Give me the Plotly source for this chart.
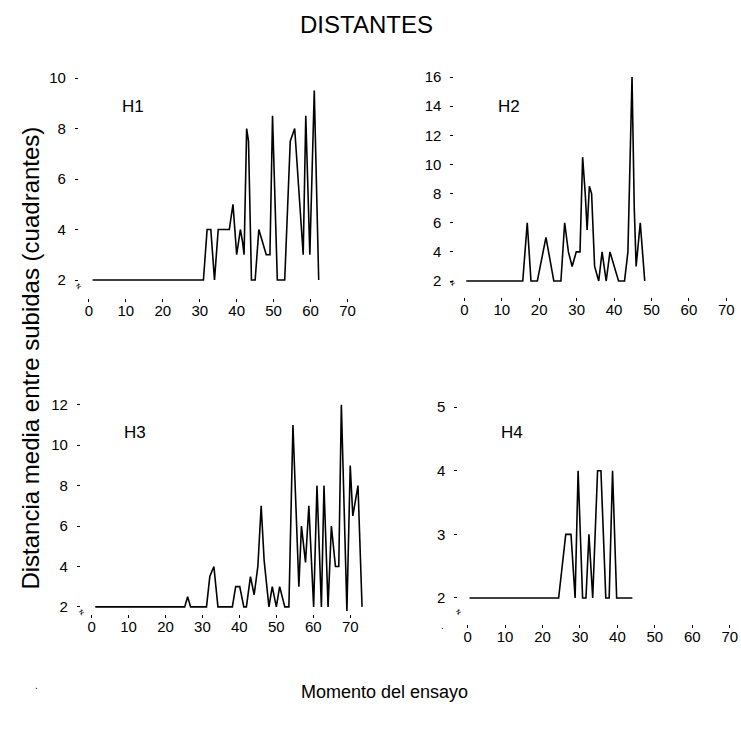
import plotly.graph_objects as go

W, H = 741, 734

# ---- data ----
h1_x = [1, 31, 32, 33, 34, 35, 38, 39, 40, 41, 41.6, 42, 42.7, 43.2, 44, 45, 46, 48, 49, 49.7, 51, 53, 54.5, 55.7, 58, 58.7, 59.8, 61, 62.2]
h1_y = [2, 2, 4, 4, 2, 4, 4, 5, 3, 4, 3.5, 3, 8, 7.5, 2, 2, 4, 3, 3, 8.5, 2, 2, 7.5, 8, 3, 8.5, 3, 9.5, 2]

h2_x = [0.5, 15.6, 16.8, 17.8, 19.5, 21.8, 23.9, 25.8, 26.8, 27.8, 28.8, 29.9, 30.9, 31.6, 32.3, 32.8, 33.4, 34, 34.8, 35.9, 36.8, 37.9, 38.9, 41.2, 42.8, 43.7, 44.8, 45.4, 45.9, 46.4, 47, 48.2]
h2_y = [2, 2, 6, 2, 2, 5, 2, 2, 6, 4, 3, 4, 4, 10.5, 8, 5.5, 8.5, 8, 3, 2, 4, 2, 4, 2, 2, 4, 16, 7, 3, 4.5, 6, 2]

h3_x = [1, 25.2, 26, 26.8, 31.1, 32, 33.1, 34.2, 38.1, 39, 40.1, 41.2, 41.9, 43, 44, 45, 45.9, 46.7, 48, 48.9, 50, 50.9, 52.3, 53.4, 54.5, 56.1, 56.8, 57.9, 58.8, 60.1, 61, 62.2, 62.9, 64, 64.9, 66, 66.9, 67.6, 69.1, 70, 70.7, 72.1, 73.2]
h3_y = [2, 2, 2.5, 2, 2, 3.5, 4, 2, 2, 3, 3, 2, 2, 3.5, 2.6, 4, 7, 4.3, 2, 3, 2, 3, 2, 2, 11, 3, 6, 4.2, 7, 2, 8, 2, 8, 2, 6, 4, 4, 12, 1.8, 9, 6.5, 8, 2]

h4_x = [0.5, 24.3, 26.2, 27.6, 28.7, 29.5, 30.7, 31.6, 32.4, 33.4, 34.7, 35.6, 36.9, 37.8, 38.7, 39.8, 44]
h4_y = [2, 2, 3, 3, 2, 4, 2, 2, 3, 2, 4, 4, 2, 2, 4, 2, 2]

x_ticks = [0, 10, 20, 30, 40, 50, 60, 70]
h1_yticks = [2, 4, 6, 8, 10]
h2_yticks = [2, 4, 6, 8, 10, 12, 14, 16]
h3_yticks = [2, 4, 6, 8, 10, 12]
h4_yticks = [2, 3, 4, 5]
panel_names = ["H1", "H2", "H3", "H4"]

title_text = "DISTANTES"
ylabel_text = "Distancia media entre subidas (cuadrantes)"
xlabel_text = "Momento del ensayo"

# ---- layout geometry (pixels) ----
panels = [
    dict(x=h1_x, y=h1_y, yt=h1_yticks, px=(79, 355.4, 67.6, 295), xr=(-2.70, 72), yr=(1.28, 10.2)),
    dict(x=h2_x, y=h2_y, yt=h2_yticks, px=(455, 734.8, 67.3, 294), xr=(-2.67, 72), yr=(0.89, 16.3)),
    dict(x=h3_x, y=h3_y, yt=h3_yticks, px=(81, 365.5, 398.6, 614), xr=(-2.89, 74), yr=(1.64, 12.2)),
    dict(x=h4_x, y=h4_y, yt=h4_yticks, px=(459, 738.2, 401.8, 624), xr=(-2.48, 72), yr=(1.59, 5.05)),
]

FONT = "Liberation Sans, Arial, sans-serif"
fig = go.Figure()
layout = dict(
    width=W, height=H, autosize=False,
    margin=dict(l=0, r=0, t=0, b=0),
    paper_bgcolor="white", plot_bgcolor="white",
    showlegend=False,
    font=dict(family=FONT, color="black"),
)

for i, p in enumerate(panels):
    n = "" if i == 0 else str(i + 1)
    fig.add_trace(go.Scatter(x=p["x"], y=p["y"], mode="lines",
                             line=dict(color="black", width=1.6),
                             xaxis="x" + n, yaxis="y" + n, hoverinfo="skip"))
    l, r, t, b = p["px"]
    layout["xaxis" + n] = dict(
        domain=[l / W, r / W], range=list(p["xr"]), anchor="y" + n,
        tickvals=x_ticks, ticks="outside", ticklen=3, tickwidth=1, tickcolor="black",
        showline=False, showgrid=False, zeroline=False,
        tickfont=dict(size=15, family=FONT, color="black"), ticklabelstandoff=-4,
    )
    layout["yaxis" + n] = dict(
        domain=[1 - b / H, 1 - t / H], range=list(p["yr"]), anchor="x" + n,
        tickvals=p["yt"], ticks="outside", ticklen=3, tickwidth=1, tickcolor="black",
        showline=False, showgrid=False, zeroline=False,
        tickfont=dict(size=15, family=FONT, color="black"), ticklabelstandoff=6,
    )

annotations = []
label_pos = [(120, 101), (497, 101), (122, 431), (500, 431)]
for name, (lx, ly) in zip(panel_names, label_pos):
    annotations.append(dict(text=name, x=lx / W, y=1 - ly / H, xref="paper", yref="paper",
                            xanchor="left", yanchor="middle", showarrow=False,
                            font=dict(size=17, family=FONT, color="black")))

annotations.append(dict(text=title_text, x=367 / W, y=1 - 19 / H, xref="paper", yref="paper",
                        xanchor="center", yanchor="middle", showarrow=False,
                        font=dict(size=24, family=FONT, color="black")))
annotations.append(dict(text=ylabel_text, x=31 / W, y=1 - 355 / H, xref="paper", yref="paper",
                        xanchor="center", yanchor="middle", showarrow=False, textangle=-90,
                        font=dict(size=24, family=FONT, color="black")))
annotations.append(dict(text=xlabel_text, x=385 / W, y=1 - 693 / H, xref="paper", yref="paper",
                        xanchor="center", yanchor="middle", showarrow=False,
                        font=dict(size=18, family=FONT, color="black")))

# axis-break marks near the lowest y tick of each panel
for bx, by in [(79, 283), (453, 280), (82, 612), (459, 612)]:
    annotations.append(dict(text="≠", x=bx / W, y=1 - by / H, xref="paper", yref="paper",
                            xanchor="center", yanchor="middle", showarrow=False, textangle=-30,
                            font=dict(size=9, family=FONT, color="black")))
# stray scan specks
for sx, sy in [(37, 686), (443, 625)]:
    annotations.append(dict(text=".", x=sx / W, y=1 - sy / H, xref="paper", yref="paper",
                            xanchor="center", yanchor="middle", showarrow=False,
                            font=dict(size=10, family=FONT, color="black")))

layout["annotations"] = annotations
fig.update_layout(**layout)
fig.write_html("out.html")
